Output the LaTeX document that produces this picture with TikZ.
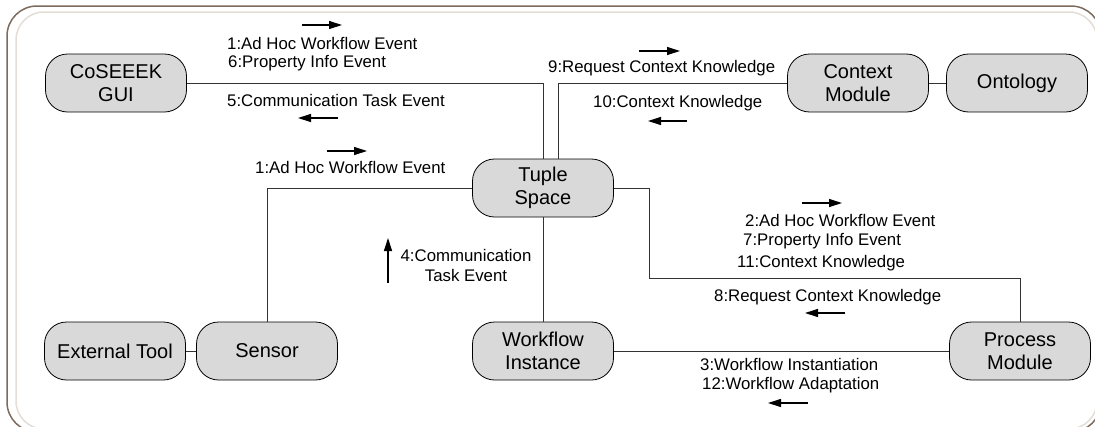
\documentclass[tikz,border=0pt]{standalone}
\usepackage{fontspec}
\setmainfont{Liberation Sans}
\usetikzlibrary{arrows.meta}
\definecolor{boxgray}{HTML}{D9D9D9}
\definecolor{wiregray}{HTML}{333333}
\definecolor{framebrown}{HTML}{7D6B5D}
\definecolor{framelight}{HTML}{E3DDD6}
\begin{document}
\begin{tikzpicture}[x=1pt,y=-1pt,
  box/.style={draw=black, fill=boxgray, rounded corners=22pt, minimum width=141pt, minimum height=58pt, inner sep=0pt, align=center, font=\fontsize{20}{23}\selectfont, line width=0.8pt},
  lbl/.style={anchor=west, inner sep=0pt, font=\fontsize{16.8}{20}\selectfont},
  wire/.style={draw=wiregray, line width=1pt},
  dirarrow/.style={line width=1.2pt, -{Triangle[length=13pt,width=8pt]}}]
\useasboundingbox (0,0) rectangle (1095,426);
\begin{scope}
\clip (0,0) rectangle (1095,426);
% frame
\draw[framebrown, line width=1.5pt, rounded corners=30pt] (7,6) rectangle (1101,432);
\draw[framelight, line width=1.5pt, rounded corners=28pt] (16,12) rectangle (1097,429);
\end{scope}
% nodes
\node[box] (gui) at (116,83) {CoSEEEK\\GUI};
\node[box] (ctx) at (858,83) {Context\\Module};
\node[box] (onto) at (1017,83) {Ontology};
\node[box] (tuple) at (543,188) {Tuple\\Space};
\node[box] (ext) at (115,351) {External Tool};
\node[box] (sens) at (267,351) {Sensor};
\node[box] (wf) at (543,351) {Workflow\\Instance};
\node[box] (proc) at (1020,351) {Process\\Module};
\coordinate (k1) at (649,278);
% connectors
\draw[wire] (gui.east) -| (tuple.north);
\draw[wire] (ctx.west) -| ([xshift=15pt]tuple.north);
\draw[wire] (ctx) -- (onto);
\draw[wire] (tuple.west) -| (sens.north);
\draw[wire] (tuple.east) -| (k1) -| (proc.north);
\draw[wire] (tuple.south) -- (wf.north);
\draw[wire] (wf) -- (proc);
\draw[wire] (ext) -- (sens);
% labels
\node[lbl] (l1) at (227,43) {1:Ad Hoc Workflow Event};
\node[lbl] (l6) at (228,63) {6:Property Info Event};
\node[lbl] (l5) at (227,100) {5:Communication Task Event};
\node[lbl] (l1b) at (255,167) {1:Ad Hoc Workflow Event};
\node[lbl] (l9) at (548,68) {9:Request Context Knowledge};
\node[lbl] (l10) at (593,103) {10:Context Knowledge};
\node[lbl] (l2) at (745,220) {2:Ad Hoc Workflow Event};
\node[lbl] (l7) at (743,241) {7:Property Info Event};
\node[lbl] (l11) at (737,263) {11:Context Knowledge};
\node[lbl] (l8) at (714,297) {8:Request Context Knowledge};
\node[lbl] (l3) at (700,364) {3:Workflow Instantiation};
\node[lbl] (l12) at (702,385) {12:Workflow Adaptation};
\node[lbl, anchor=center, align=center] (l4) at (466,265) {4:Communication\\Task Event};
% direction arrows
\coordinate (a1s) at (302,25); \coordinate (a1e) at (342,25);
\coordinate (a5s) at (338,118); \coordinate (a5e) at (298,118);
\coordinate (a1bs) at (327,151); \coordinate (a1be) at (367,151);
\coordinate (a9s) at (639,51); \coordinate (a9e) at (680,51);
\coordinate (a10s) at (687,121); \coordinate (a10e) at (648,121);
\coordinate (a2s) at (802,203); \coordinate (a2e) at (842,203);
\coordinate (a8s) at (845,313); \coordinate (a8e) at (805,313);
\coordinate (a3s) at (808,403); \coordinate (a3e) at (768,403);
\coordinate (a4s) at (388,283); \coordinate (a4e) at (388,238);
\draw[dirarrow] (a1s) -- (a1e);
\draw[dirarrow] (a5s) -- (a5e);
\draw[dirarrow] (a1bs) -- (a1be);
\draw[dirarrow] (a9s) -- (a9e);
\draw[dirarrow] (a10s) -- (a10e);
\draw[dirarrow] (a2s) -- (a2e);
\draw[dirarrow] (a8s) -- (a8e);
\draw[dirarrow] (a3s) -- (a3e);
\draw[dirarrow] (a4s) -- (a4e);
\end{tikzpicture}
\end{document}
